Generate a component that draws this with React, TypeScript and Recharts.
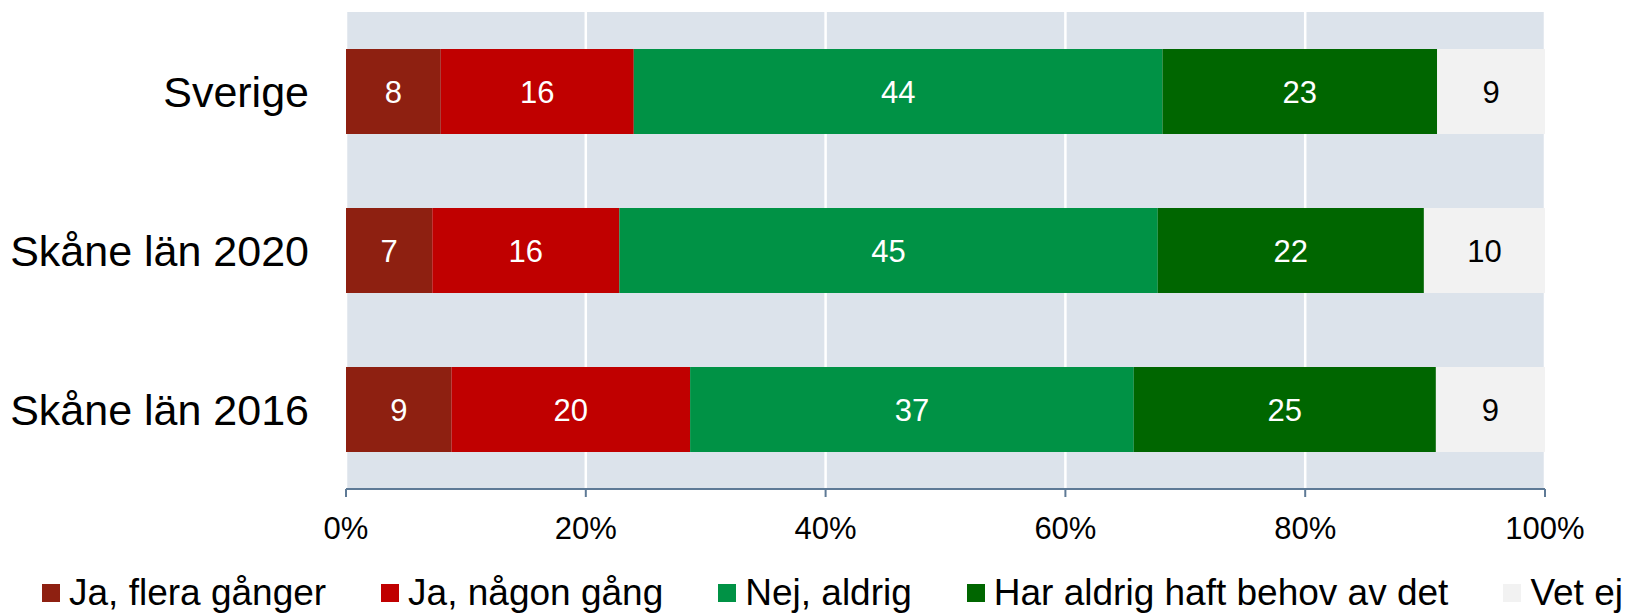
import React from 'react';
import { BarChart, Bar, XAxis, YAxis, CartesianGrid, LabelList, Legend } from 'recharts';

const categories = ['Sverige', 'Skåne län 2020', 'Skåne län 2016'];
const seriesNames = ['Ja, flera gånger', 'Ja, någon gång', 'Nej, aldrig', 'Har aldrig haft behov av det', 'Vet ej'];
const jaFleraGanger = [7.9, 7.2, 8.8];
const jaNagonGang = [16.1, 15.6, 19.9];
const nejAldrig = [44.1, 44.9, 37.0];
const harAldrigBehov = [22.9, 22.2, 25.2];
const vetEj = [9.0, 10.1, 9.1];
const xTicks = [0, 20, 40, 60, 80, 100];

const seriesValues = [jaFleraGanger, jaNagonGang, nejAldrig, harAldrigBehov, vetEj];
const seriesKeys = ['s0', 's1', 's2', 's3', 's4'];
const colors = ['#8E2011', '#C00000', '#009245', '#006600', '#F2F2F2'];
const labelColors = ['#FFFFFF', '#FFFFFF', '#FFFFFF', '#FFFFFF', '#000000'];
const FONT = '"Liberation Sans", Arial, sans-serif';

const data = categories.map((name, i) => {
  const row: Record<string, any> = { name };
  seriesKeys.forEach((k, j) => {
    row[k] = seriesValues[j][i];
  });
  return row;
});

const LegendContent = () => (
  <div
    style={{
      display: 'flex',
      alignItems: 'center',
      paddingLeft: 42,
      gap: 55,
      whiteSpace: 'nowrap',
      fontSize: 37,
      lineHeight: '37px',
      fontFamily: FONT,
      color: '#000',
    }}
  >
    {seriesNames.map((n, i) => (
      <div key={n} style={{ display: 'flex', alignItems: 'center' }}>
        <span style={{ display: 'inline-block', width: 18, height: 18, background: colors[i], marginRight: 9 }} />
        <span>{n}</span>
      </div>
    ))}
  </div>
);

export default function App() {
  return (
    <div>
      <style>{`body{margin:0;}`}</style>
      <BarChart
        width={1639}
        height={613}
        data={data}
        layout="vertical"
        margin={{ top: 12, right: 94, bottom: 64, left: 0 }}
        barCategoryGap="23.3%"
      >
        <CartesianGrid horizontal={false} vertical={true} stroke="#FFFFFF" strokeWidth={2.5} fill="#DCE3EB" />
        <XAxis
          type="number"
          domain={[0, 100]}
          ticks={xTicks}
          tickFormatter={(v: number) => `${v}%`}
          height={60}
          axisLine={{ stroke: '#5E7A96', strokeWidth: 2 }}
          tickLine={{ stroke: '#5E7A96', strokeWidth: 2 }}
          tickSize={8}
          tickMargin={20}
          tick={{ fill: '#000', fontSize: 31, fontFamily: FONT }}
          interval={0}
        />
        <YAxis
          type="category"
          dataKey="name"
          width={346}
          axisLine={false}
          tickLine={false}
          tickSize={0}
          tickMargin={37}
          tick={{ fill: '#000', fontSize: 43, fontFamily: FONT }}
        />
        <Legend
          verticalAlign="middle"
          align="center"
          layout="horizontal"
          content={<LegendContent />}
          wrapperStyle={{ top: 574, left: 0, width: 1639 }}
        />
        {seriesKeys.map((k, i) => (
          <Bar key={k} dataKey={k} name={seriesNames[i]} stackId="a" fill={colors[i]} isAnimationActive={false}>
            <LabelList
              dataKey={k}
              position="center"
              fill={labelColors[i]}
              fontSize={31}
              fontFamily={FONT}
              formatter={(v: any) => Math.round(Number(v))}
            />
          </Bar>
        ))}
      </BarChart>
    </div>
  );
}
